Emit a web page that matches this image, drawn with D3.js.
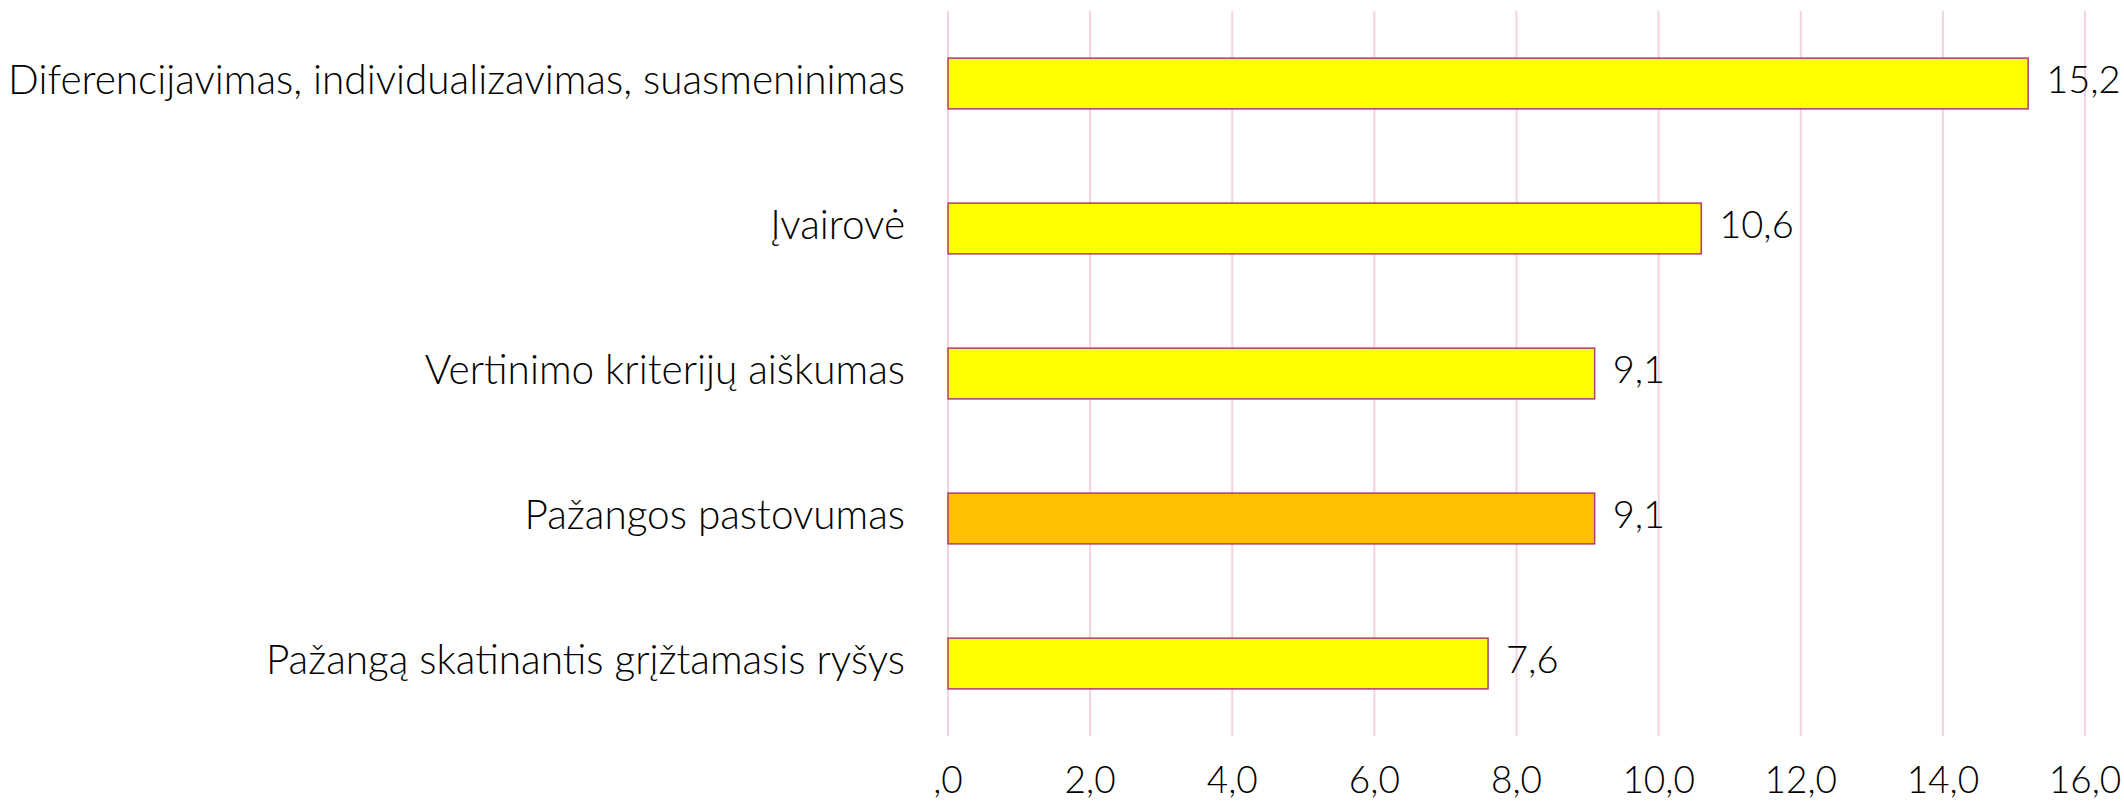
<!DOCTYPE html>
<html>
<head>
<meta charset="utf-8">
<script src="https://cdn.jsdelivr.net/npm/d3@7"></script>
<style>
    body { margin: 0; background: #fff; }
    text { font-family: Lato, "Open Sans", sans-serif; font-weight: 300; fill: #000; }
</style>
</head>
<body>
<script>
// chart data, top to bottom
var categories = [
    "Diferencijavimas, individualizavimas, suasmeninimas",
    "Įvairovė",
    "Vertinimo kriterijų aiškumas",
    "Pažangos pastovumas",
    "Pažangą skatinantis grįžtamasis ryšys"
];
var values = [15.2, 10.6, 9.1, 9.1, 7.6];
var valueLabels = ["15,2", "10,6", "9,1", "9,1", "7,6"];
var barColors = ["#ffff00", "#ffff00", "#ffff00", "#ffc000", "#ffff00"];
var tickValues = [0, 2, 4, 6, 8, 10, 12, 14, 16];
var tickLabels = [",0", "2,0", "4,0", "6,0", "8,0", "10,0", "12,0", "14,0", "16,0"];

var width = 2124, height = 801;
var plot = {left: 948, right: 2085, top: 11, bottom: 736};

var svg = d3.select("body").append("svg")
    .attr("width", width)
    .attr("height", height);

var xScale = d3.scaleLinear().domain([0, 16]).range([plot.left, plot.right]);
var yScale = d3.scaleBand().domain(categories)
    .range([plot.top, plot.bottom])
    .paddingInner(0.65).paddingOuter(0.325);

// vertical gridlines
svg.append("g").selectAll("line")
    .data(tickValues)
    .enter().append("line")
    .attr("x1", function(d) { return xScale(d); })
    .attr("x2", function(d) { return xScale(d); })
    .attr("y1", plot.top)
    .attr("y2", plot.bottom)
    .attr("stroke", "#f2d3df")
    .attr("stroke-width", 2);

// tick labels along the bottom
svg.append("g").selectAll("text")
    .data(tickValues)
    .enter().append("text")
    .attr("x", function(d) { return xScale(d); })
    .attr("y", 784)
    .attr("text-anchor", "middle")
    .attr("dominant-baseline", "middle")
    .style("font-size", "37px")
    .text(function(d, i) { return tickLabels[i]; });

// bars
svg.append("g").selectAll("rect")
    .data(values)
    .enter().append("rect")
    .attr("x", xScale(0))
    .attr("y", function(d, i) { return yScale(categories[i]); })
    .attr("width", function(d) { return xScale(d) - xScale(0); })
    .attr("height", yScale.bandwidth())
    .attr("fill", function(d, i) { return barColors[i]; })
    .attr("stroke", "#b03c78")
    .attr("stroke-width", 1.5);

// value labels
svg.append("g").selectAll("text")
    .data(values)
    .enter().append("text")
    .attr("x", function(d) { return xScale(d) + 18; })
    .attr("y", function(d, i) { return yScale(categories[i]) + yScale.bandwidth() / 2; })
    .attr("dominant-baseline", "middle")
    .style("font-size", "38px")
    .text(function(d, i) { return valueLabels[i]; });

// category labels
svg.append("g").selectAll("text")
    .data(categories)
    .enter().append("text")
    .attr("x", 905)
    .attr("y", function(d) { return yScale(d) + yScale.bandwidth() / 2; })
    .attr("text-anchor", "end")
    .attr("dominant-baseline", "middle")
    .style("font-size", "40.5px")
    .text(function(d) { return d; });
</script>
</body>
</html>
